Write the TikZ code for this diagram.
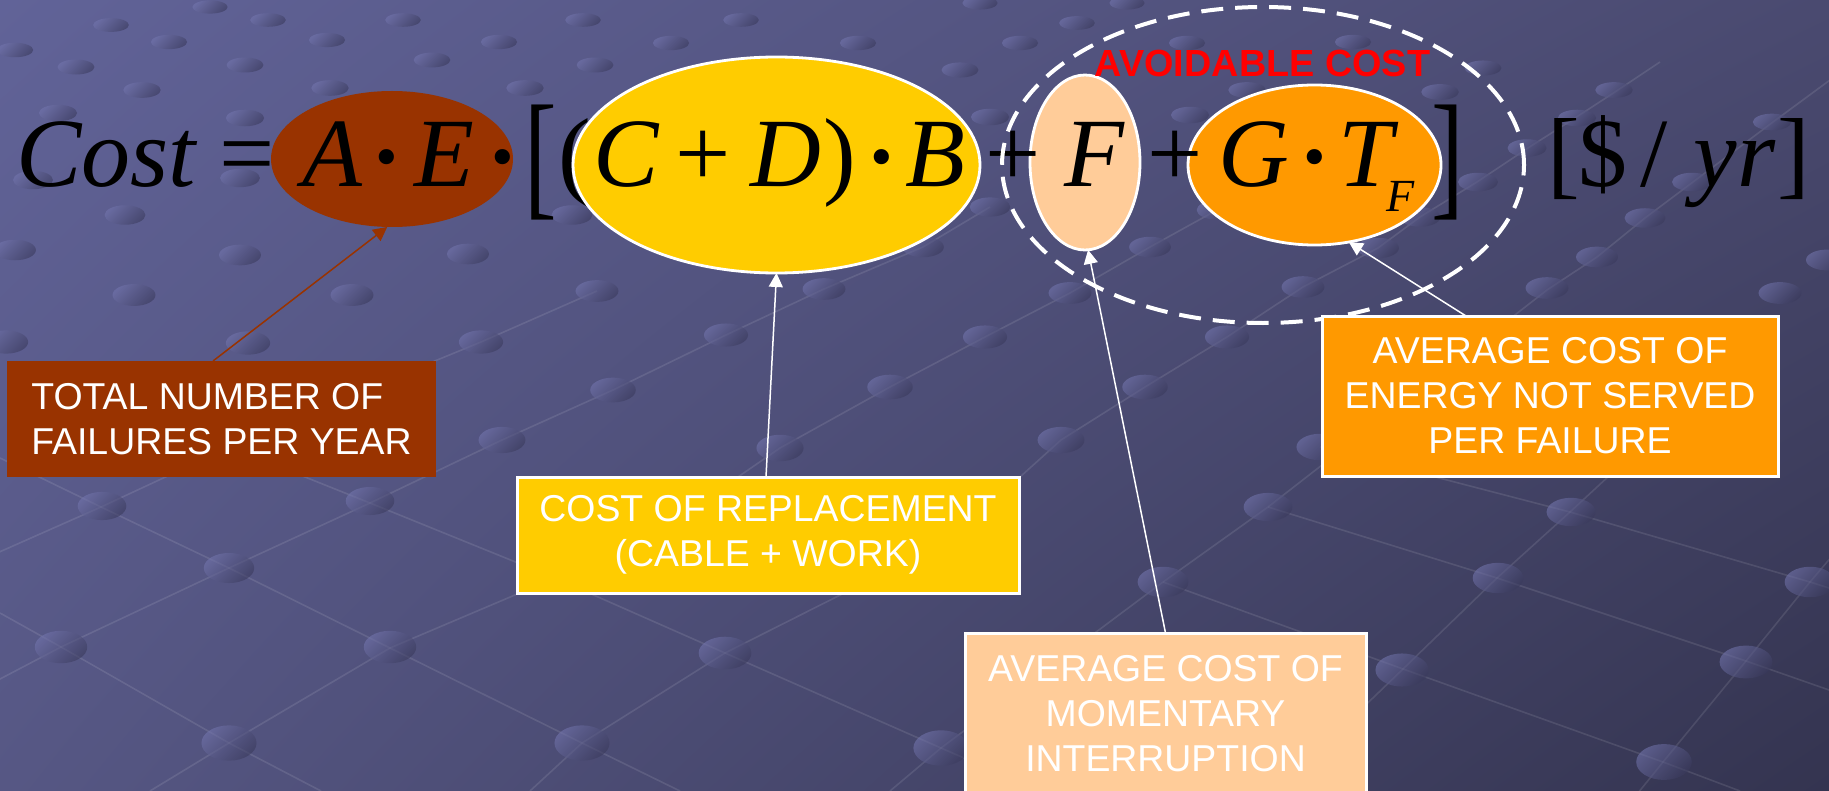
\documentclass[tikz,border=0pt]{standalone}
\usepackage{fontspec}
\usepackage{graphicx}
\setmainfont{Liberation Serif}
\newfontfamily\arialf{Liberation Sans}
\usetikzlibrary{shapes.geometric,arrows.meta,shadings}

\definecolor{bgA}{RGB}{97,99,152}
\definecolor{bgB}{RGB}{74,74,112}
\definecolor{bgC}{RGB}{86,87,132}
\definecolor{bgD}{RGB}{52,52,80}
\definecolor{brownc}{RGB}{153,51,0}
\definecolor{yellowc}{RGB}{255,204,0}
\definecolor{orangec}{RGB}{255,153,0}
\definecolor{peachc}{RGB}{255,204,153}
\definecolor{dotL}{RGB}{114,116,172}
\definecolor{dotD}{RGB}{58,58,92}

\begin{document}
\begin{tikzpicture}[x=0.5pt,y=-0.5pt,
  eqr/.style={inner sep=0pt, outer sep=0pt, anchor=base, font=\fontsize{49}{49}\selectfont},
  eqi/.style={eqr, font=\fontsize{49}{49}\selectfont\itshape},
  eqdot/.style={eqr, font=\fontsize{64}{64}\selectfont},
  bigbr/.style={inner sep=0pt, outer sep=0pt, anchor=center, font=\fontsize{49}{49}\selectfont},
  oval/.style={ellipse, inner sep=0pt, outer sep=0pt},
  ovalw/.style={oval, draw=white, line width=1.4pt},
  lbox/.style={inner sep=0pt, outer sep=0pt, text=white, align=center,
    font=\arialf\fontsize{18.7}{22.5}\selectfont},
  lboxw/.style={lbox, draw=white, line width=1.5pt},
  arr/.style={-{Triangle[length=7pt,width=7pt]}, line width=0.75pt, draw=white, fill=white},
  bgdot/.style={top color=dotL, bottom color=dotD, shading angle=45, fill opacity=0.6},
  bgline/.style={draw=white, draw opacity=0.1, line width=0.8pt}
]
\useasboundingbox (0,0) rectangle (1829,791);
\clip (0,0) rectangle (1829,791);
\shade[upper left=bgA, upper right=bgB, lower left=bgC, lower right=bgD] (0,0) rectangle (1829,791);

% background lattice lines
\draw[bgline] (0,613) -- (61,647) -- (229,743) -- (321,791);
\draw[bgline] (0,458) -- (101,507) -- (229,568) -- (390,648) -- (582,743) -- (680,791);
\draw[bgline] (230,447) -- (370,503) -- (555,578) -- (725,653) -- (941,748) -- (1040,791);
\draw[bgline] (-30,565) -- (101,507) -- (230,447) -- (352,395) -- (481,342) -- (597,291);
\draw[bgline] (-40,700) -- (61,647) -- (229,568) -- (370,503) -- (502,440) -- (613,390) -- (726,335) -- (824,289) -- (923,247) -- (990,207);
\draw[bgline] (150,791) -- (229,743) -- (390,648) -- (555,578) -- (690,510) -- (780,448) -- (890,387) -- (985,337) -- (1070,293) -- (1150,247) -- (1217,210) -- (1265,180);
\draw[bgline] (530,791) -- (582,743) -- (725,653) -- (870,580) -- (1000,495) -- (1061,440) -- (1145,387) -- (1227,337) -- (1303,287) -- (1378,248) -- (1420,217) -- (1477,182) -- (1528,148) -- (1575,118) -- (1615,92) -- (1660,62);
\draw[bgline] (890,791) -- (941,748) -- (1163,582) -- (1268,507) -- (1547,290) -- (1597,257) -- (1645,218) -- (1693,182) -- (1773,122) -- (1830,80);
\draw[bgline] (1350,720) -- (1403,669) -- (1497,578) -- (1570,512) -- (1610,475);
\draw[bgline] (1600,840) -- (1663,762) -- (1746,661) -- (1810,582) -- (1850,535);
\draw[bgline] (1163,582) -- (1403,669) -- (1663,762) -- (1740,791);
\draw[bgline] (1268,507) -- (1497,578) -- (1746,661) -- (1829,690);
\draw[bgline] (1320,447) -- (1570,512) -- (1810,582) -- (1829,588);

% background dots
\foreach \px/\py in {210/7, 111/25, 268/20, 403/20, 583/20, 741/20, 980/3, 1127/3, 1077/23,
  15/50, 169/42, 327/40, 499/42, 671/43, 858/43, 1020/43, 1187/43, 1353/42,
  76/67, 245/65, 432/60, 595/65, 960/70, 1483/68,
  142/90, 330/88, 525/88, 1247/90, 1440/92, 1614/90,
  58/113, 245/118, 990/117, 1190/115, 1577/118, 1772/122,
  1527/148,
  33/180, 240/178, 1478/182, 1692/182,
  125/215, 572/215, 990/207, 1217/210, 1420/217, 1645/218,
  15/250, 240/255, 468/254, 923/247, 1150/247, 1378/248, 1597/257, 1827/260,
  134/295, 352/295, 597/291, 824/289, 1070/293, 1303/287, 1547/288, 1780/293,
  6/342, 248/343, 481/342, 726/335, 985/337, 1227/337,
  613/390, 890/387, 1145/387,
  502/440, 780/448, 1061/440, 1320/447,
  102/506, 370/501, 1268/507, 1571/512,
  229/568, 1163/582, 1498/578, 1810/582,
  61/647, 390/647, 725/653, 1402/670, 1746/662,
  229/743, 582/743, 941/748, 1664/762}
{
  \pgfmathsetmacro\dw{(35+0.027*\py)/2}
  \pgfmathsetmacro\dh{(13+0.03*\py)/2}
  \shade[bgdot] (\px,\py) ellipse [x radius=\dw, y radius=\dh];
}

% glyph that lies under the yellow oval
\node[eqr] (lpar) at (575,187) {(};

% ovals
\node[oval, fill=brownc, minimum width=121pt, minimum height=68pt] (bell) at (392,159) {};
\node[ovalw, fill=yellowc, minimum width=203.5pt, minimum height=108pt] (yell) at (776.5,165) {};
\node[ovalw, fill=peachc, minimum width=55pt, minimum height=87.5pt] (pell) at (1085,162.5) {};
\node[ovalw, fill=orangec, minimum width=126.5pt, minimum height=80pt] (oell) at (1314.5,165) {};

% equation
\node[eqi] (cost) at (106,187) {Cost};
\node[eqr] (eqs) at (247,187) {=};
\node[eqi] (ga) at (332,187) {A};
\node[eqdot] (d1) at (387,200) {·};
\node[eqi] (ge) at (444,187) {E};
\node[eqdot] (d2) at (503,200) {·};
\node[bigbr] (lb) at (541,162.5) {\scalebox{1}[1.42]{[}};
\node[eqi] (gc) at (626,187) {C};
\node[eqr] (p1) at (703.5,187) {+};
\node[eqi] (gd) at (786,187) {D};
\node[eqr] (rpar) at (840,187) {)};
\node[eqdot] (d3) at (882,200) {·};
\node[eqi] (gb) at (935.5,187) {B};
\node[eqr] (p2) at (1013,187) {+};
\node[eqi] (gf) at (1094,187) {F};
\node[eqr] (p3) at (1175,187) {+};
\node[eqi] (gg) at (1253.5,187) {G};
\node[eqdot] (d4) at (1315,200) {·};
\node[eqi] (gt) at (1365.5,187) {T};
\node[eqi, font=\fontsize{23}{23}\selectfont\itshape] (gtf) at (1401,212) {F};
\node[bigbr] (rb) at (1447.5,162.5) {\scalebox{1}[1.42]{]}};
\node[eqr] (ub1) at (1564,187) {[};
\node[eqr] (usd) at (1602.5,187) {\$};
\node[eqr] (usl) at (1654,187) {/};
\node[eqi] (uyr) at (1734.5,187) {yr};
\node[eqr] (ub2) at (1794,187) {]};

% avoidable cost group
\node[oval, draw=white, line width=2pt, dash pattern=on 11pt off 6pt, minimum width=261pt, minimum height=158pt] (avoid) at (1263,165) {};
\node[inner sep=0pt, anchor=base, text=red, font=\arialf\bfseries\fontsize{18.9}{18.9}\selectfont] (avoidlbl) at (1262.5,77) {AVOIDABLE COST};

% label boxes
\node[lbox, fill=brownc, align=left, minimum width=214.5pt, minimum height=58pt] (bbox) at (221.5,419) {TOTAL NUMBER OF\\FAILURES PER YEAR};
\node[lboxw, fill=yellowc, minimum width=251pt, minimum height=58pt] (ybox) at (768,535) {COST OF REPLACEMENT\\(CABLE + WORK)};
\node[lboxw, fill=orangec, minimum width=228pt, minimum height=80pt] (obox) at (1550,396) {AVERAGE COST OF\\ENERGY NOT SERVED\\PER FAILURE};
\node[lboxw, fill=peachc, minimum width=200.5pt, minimum height=80.5pt] (pbox) at (1165.5,713.5) {AVERAGE COST OF\\MOMENTARY\\INTERRUPTION};

% connectors
\draw[arr, draw=brownc, fill=brownc] ([xshift=-4.25pt]bbox.north) -- (bell.-94);
\draw[arr] ([xshift=-1pt]ybox.north) -- (yell.south);
\draw[arr] (pbox.north) -- (pell.-88);
\draw[arr] ([xshift=-42pt]obox.north) -- (oell.-66);
\end{tikzpicture}
\end{document}
